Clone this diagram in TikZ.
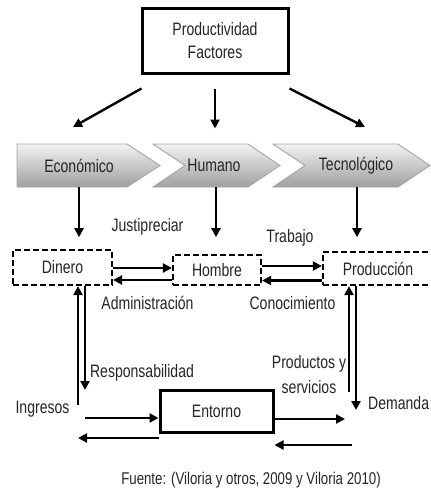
\documentclass[tikz,border=0pt]{standalone}
\usepackage{fontspec}
\setmainfont{Liberation Sans}[FakeStretch=0.78]
\usetikzlibrary{arrows.meta}
\begin{document}
\begin{tikzpicture}[x=1pt,y=-1pt,
  every node/.style={font=\fontsize{18}{21}\selectfont, text=black!85},
  arr/.style={line width=2.4pt, -{Triangle[length=9pt,width=9pt]}},
  solidbox/.style={draw, line width=3pt, inner sep=0pt},
  dashbox/.style={draw, line width=2.2pt, dash pattern=on 6pt off 3pt, inner sep=0pt},
  chev/.style={top color=gray!10, bottom color=gray!75, draw=gray!70, line width=0.9pt},
  lbl/.style={inner sep=0pt}
]
\useasboundingbox (0,0) rectangle (431,490);
\fill[white] (0,0) rectangle (431,490);

% top box
\node[solidbox, minimum width=146pt, minimum height=65pt, align=center,
  font=\fontsize{18}{23}\selectfont] (top) at (215,40.5) {Productividad\\Factores};

% chevrons
\shade[chev] (17,144) -- (127,144) -- (160,165.5) -- (127,187) -- (17,187) -- cycle;
\shade[chev] (153,144) -- (248,144) -- (280,165.5) -- (248,187) -- (153,187) -- (185,165.5) -- cycle;
\shade[chev] (273,144) -- (398,144) -- (430,165.5) -- (398,187) -- (273,187) -- (305,165.5) -- cycle;
\node[minimum height=43pt, inner sep=0pt] (econ) at (79,165.5) {Económico};
\node[minimum height=43pt, inner sep=0pt] (hum) at (214,165.5) {Humano};
\node[minimum height=43pt, inner sep=0pt] (tec) at (356,165.5) {Tecnológico};

% arrows from top box
\coordinate (e1) at (73,127);
\coordinate (e3) at (365,127);
\draw[arr] ([shift={(1pt,-14pt)}]top.south west) -- (e1);
\draw[arr] ([yshift=-14pt]top.south) -- ++(0,40);
\draw[arr] ([yshift=-14pt]top.south east) -- (e3);

% dashed boxes
\node[dashbox, minimum width=99pt, minimum height=35pt] (din) at (62.5,267.5) {Dinero};
\node[dashbox, minimum width=88pt, minimum height=30pt] (hom) at (217,270) {Hombre};
\node[dashbox, minimum width=117pt, minimum height=33pt, text width=117pt, align=center] (prod) at (381.5,268.5) {\hspace*{-7pt}Producción};

% arrows from chevrons
\draw[arr] (econ.south) -- ++(0,50);
\draw[arr] ([xshift=2pt]hum.south) -- ++(0,50);
\draw[arr] ([xshift=1pt]tec.south) -- ++(0,50);

% labels
\node[lbl] (just) at (147.5,227) {Justipreciar};
\node[lbl] (trab) at (290,238) {Trabajo};
\node[lbl] (adm) at (147.5,303) {Administración};
\node[lbl] (con) at (292.5,303) {Conocimiento};

% horizontal arrows between boxes
\draw[arr] ([yshift=-0.5pt]din.east) -- ([yshift=-0.5pt]din.east -| hom.west);
\draw[arr] ([yshift=-10pt]hom.west) -- ([yshift=-10pt]hom.west -| din.east);
\draw[arr] ([yshift=4pt]hom.east) -- ([yshift=4pt]hom.east -| prod.west);
\draw[arr] ([yshift=-12pt]prod.west) -- ([yshift=-12pt]prod.west -| hom.east);

% Entorno
\node[solidbox, minimum width=113pt, minimum height=42pt] (ent) at (216.5,411) {Entorno};

% vertical arrows left
\coordinate (dUp) at (78,405);
\coordinate (dDn) at (85,390);
\draw[arr] (dUp) -- (dUp |- din.south);
\draw[arr] (dDn |- din.south) -- (dDn);

% vertical arrows right
\coordinate (pUp) at (349,392);
\coordinate (pDn) at (356,410);
\draw[arr] (pUp) -- (pUp |- prod.south);
\draw[arr] (pDn |- prod.south) -- (pDn);

% labels lower
\node[lbl] (resp) at (142,373) {Responsabilidad};
\node[lbl, align=center, font=\fontsize{18}{25}\selectfont] (prodserv) at (309,375) {Productos y\\servicios};
\node[lbl] (ing) at (42.5,409) {Ingresos};
\node[lbl, anchor=west] (dem) at (368,403) {Demanda};

% arrows around Entorno
\coordinate (inA) at (85,418);
\coordinate (inB) at (78,438);
\coordinate (outA) at (345,419);
\coordinate (outB) at (352,445);
\draw[arr] (inA) -- (inA -| ent.west);
\draw[arr] ([yshift=-27pt]ent.west) -- (inB);
\draw[arr] ([yshift=-8pt]ent.east) -- (outA);
\draw[arr] (outB) -- (outB -| ent.east);

% source
\node[lbl, font=\fontsize{17}{20}\selectfont] (src) at (251,480) {Fuente: (Viloria y otros, 2009 y Viloria 2010)};
\end{tikzpicture}
\end{document}
